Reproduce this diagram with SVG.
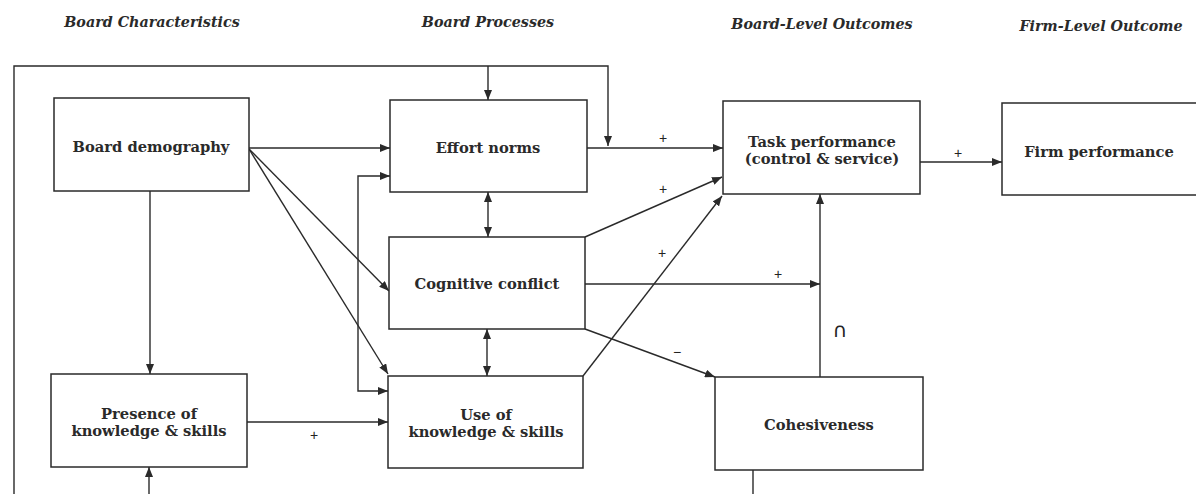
<svg xmlns="http://www.w3.org/2000/svg" width="1196" height="494" viewBox="0 0 1196 494">
<style>
.box{fill:#fff;stroke:#2a2a2a;stroke-width:1.5}
.lbl{font-family:"DejaVu Serif","Liberation Serif",serif;font-size:14.7px;font-weight:bold;fill:#2a2a2a;text-anchor:middle}
.hd{font-family:"DejaVu Serif","Liberation Serif",serif;font-size:14.3px;font-weight:bold;font-style:italic;fill:#2a2a2a;text-anchor:middle}
.sg{font-family:"Liberation Sans","DejaVu Sans",sans-serif;font-size:14px;fill:#222;text-anchor:middle}
.cn path{fill:none;stroke:#2a2a2a;stroke-width:1.4}
</style>
<defs>
<marker id="ah" markerUnits="userSpaceOnUse" markerWidth="10" markerHeight="8" refX="10" refY="4" orient="auto-start-reverse">
<path d="M0,0 L10,4 L0,8 z" fill="#2a2a2a"/>
</marker>
</defs>
<rect width="1196" height="494" fill="#fff"/>
<g id="headings">
<text class="hd" x="152" y="27">Board Characteristics</text>
<text class="hd" x="488" y="27">Board Processes</text>
<text class="hd" x="822" y="29">Board-Level Outcomes</text>
<text class="hd" x="1101" y="31">Firm-Level Outcome</text>
</g>
<g id="connectors" class="cn">
<path d="M14,494 V66 H608 V146" marker-end="url(#ah)"/>
<path d="M488,66 V100" marker-end="url(#ah)"/>
<path d="M249,148 H390" marker-end="url(#ah)"/>
<path d="M390,176 H358 V391 H388" marker-start="url(#ah)" marker-end="url(#ah)"/>
<path d="M249,149 L389,291" marker-end="url(#ah)"/>
<path d="M249,149 L388,374" marker-end="url(#ah)"/>
<path d="M150,191 V374" marker-end="url(#ah)"/>
<path d="M247,422 H388" marker-end="url(#ah)"/>
<path d="M149,494 V467" marker-end="url(#ah)"/>
<path d="M488,192 V237" marker-start="url(#ah)" marker-end="url(#ah)"/>
<path d="M487,329 V376" marker-start="url(#ah)" marker-end="url(#ah)"/>
<path d="M587,148 H723" marker-end="url(#ah)"/>
<path d="M585,237 L722,177" marker-end="url(#ah)"/>
<path d="M583,376 L722,196" marker-end="url(#ah)"/>
<path d="M585,284 H820" marker-end="url(#ah)"/>
<path d="M820,377 V194" marker-end="url(#ah)"/>
<path d="M585,329 L715,377" marker-end="url(#ah)"/>
<path d="M753,470 V494"/>
<path d="M920,162 H1002" marker-end="url(#ah)"/>
</g>
<g id="signs">
<text class="sg" x="663" y="143">+</text>
<text class="sg" x="663" y="194">+</text>
<text class="sg" x="662" y="258">+</text>
<text class="sg" x="778" y="279">+</text>
<text class="sg" x="677" y="357">−</text>
<text class="sg" x="314" y="440">+</text>
<text class="sg" x="958" y="158">+</text>
<text x="840" y="337" style="font-family:'DejaVu Sans','Liberation Sans',sans-serif;font-size:20px;fill:#222;text-anchor:middle">∩</text>
</g>
<g id="board-demography">
<rect class="box" x="54" y="98" width="195" height="93"/>
<text class="lbl" x="151" y="152">Board demography</text>
</g>
<g id="presence">
<rect class="box" x="51" y="374" width="196" height="93"/>
<text class="lbl" x="149" y="419">Presence of</text>
<text class="lbl" x="149" y="436">knowledge &amp; skills</text>
</g>
<g id="effort-norms">
<rect class="box" x="390" y="100" width="197" height="92"/>
<text class="lbl" x="488" y="153">Effort norms</text>
</g>
<g id="cognitive-conflict">
<rect class="box" x="389" y="237" width="196" height="92"/>
<text class="lbl" x="487" y="289">Cognitive conflict</text>
</g>
<g id="use-knowledge">
<rect class="box" x="388" y="376" width="195" height="92"/>
<text class="lbl" x="486" y="420">Use of</text>
<text class="lbl" x="486" y="437">knowledge &amp; skills</text>
</g>
<g id="task-performance">
<rect class="box" x="723" y="101" width="197" height="93"/>
<text class="lbl" x="822" y="147">Task performance</text>
<text class="lbl" x="822" y="164">(control &amp; service)</text>
</g>
<g id="firm-performance">
<rect class="box" x="1002" y="103" width="230" height="92"/>
<text class="lbl" x="1099" y="157">Firm performance</text>
</g>
<g id="cohesiveness">
<rect class="box" x="715" y="377" width="208" height="93"/>
<text class="lbl" x="819" y="430">Cohesiveness</text>
</g>
</svg>
